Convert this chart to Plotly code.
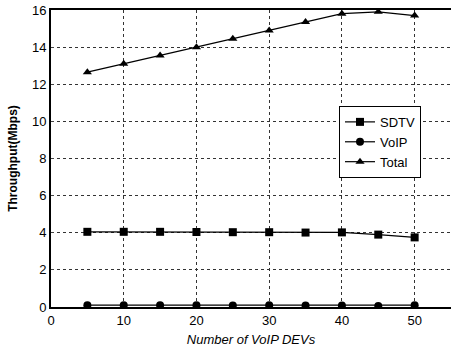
import plotly.graph_objects as go

devs = [5, 10, 15, 20, 25, 30, 35, 40, 45, 50]
sdtv = [4.05, 4.05, 4.05, 4.04, 4.03, 4.03, 4.01, 4.02, 3.9, 3.75]
voip = [0.1, 0.1, 0.1, 0.1, 0.08, 0.1, 0.08, 0.08, 0.06, 0.1]
total = [12.65, 13.1, 13.55, 14.0, 14.45, 14.9, 15.35, 15.8, 15.9, 15.7]

series = [("SDTV", sdtv, "square"), ("VoIP", voip, "circle"), ("Total", total, "triangle-up")]

fig = go.Figure()
for name, vals, sym in series:
    fig.add_trace(go.Scatter(x=devs, y=vals, name=name, mode="lines+markers",
                             line=dict(color="black", width=1.2),
                             marker=dict(symbol=sym, size=8, color="black")))

font = "Liberation Sans, Arial, sans-serif"
fig.update_layout(
    width=451, height=353,
    margin=dict(l=51, r=0, t=10, b=46),
    paper_bgcolor="white", plot_bgcolor="white",
    font=dict(family=font, size=13, color="black"),
    showlegend=True,
    legend=dict(x=0.72, y=0.677, xanchor="left", yanchor="top",
                bgcolor="white", bordercolor="black", borderwidth=1,
                font=dict(size=13, family=font), tracegroupgap=0,
                itemwidth=30),
    xaxis=dict(range=[0, 55], tickvals=[0, 10, 20, 30, 40, 50],
               showline=True, linecolor="black", linewidth=2, mirror=True,
               showgrid=True, gridcolor="#333333", griddash="dot", gridwidth=0.8,
               ticks="", zeroline=False, automargin=False,
               title=dict(text="<i>Number of VoIP DEVs</i>", font=dict(size=13), standoff=8)),
    yaxis=dict(range=[0, 16], tickvals=list(range(0, 17, 2)),
               showline=True, linecolor="black", linewidth=2,
               showgrid=True, gridcolor="#333333", griddash="dot", gridwidth=0.8,
               ticks="inside", ticklen=3, zeroline=False, automargin=False,
               title=dict(text="<b>Throughput(Mbps)</b>", font=dict(size=12), standoff=12)),
)
fig.write_html("out.html", config={"displayModeBar": False},
               post_script="document.body.style.margin='0px';")
